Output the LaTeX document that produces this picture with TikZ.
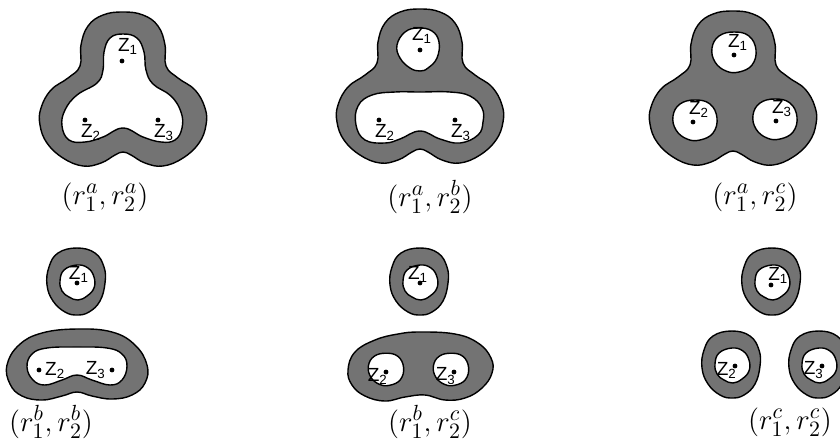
\documentclass[tikz,border=0pt]{standalone}
\usepackage{fontspec}
\setsansfont{Liberation Sans}
\usetikzlibrary{positioning}

\begin{document}
\begin{tikzpicture}[
		% 1 unidad = 1 px de la figura original (eje y hacia abajo)
		x=0.5pt, y=-0.5pt,
		% Estilos de las regiones
		anillo/.style={draw=black, line width=0.7pt, fill=black!55},
		hueco/.style={draw=black, line width=0.7pt, fill=white},
		curva/.style={smooth cycle, tension=0.7},
		% Puntos z_i y sus etiquetas
		punto/.style={circle, fill=black, inner sep=0pt, minimum size=2.4pt},
		label_z/.style={font=\sffamily\fontsize{9.5}{10}\selectfont, inner sep=0.5pt},
		label_par/.style={font=\fontsize{15}{18}\selectfont, inner sep=0pt},
		% Contorno exterior comun de la fila superior
		pics/borde_sup/.style={code={
			\filldraw[anillo] plot[curva] coordinates {(0,12) (20,15) (35,26) (42,45) (43,66) (55,78) (72,90) (82,108) (83,125) (76,143) (60,158) (40,166) (22,163) (8,155) (0,152) (-8,155) (-22,163) (-40,166) (-60,158) (-76,143) (-83,125) (-82,108) (-72,90) (-55,78) (-43,66) (-42,45) (-35,26) (-20,15)};
		}},
		% Hueco aislado alrededor de un punto
		pics/hueco_z/.style={code={
			\filldraw[hueco] plot[curva] coordinates {(0,-21) (15,-17) (22,-3) (18,12) (5,19) (-8,18) (-19,9) (-22,-5) (-15,-17)};
		}},
		% Anillo pequeno alrededor de un punto aislado
		pics/aro/.style={code={
			\filldraw[anillo] plot[curva] coordinates {(0,-35) (18,-30) (27,-16) (28,0) (23,18) (12,29) (0,32) (-12,29) (-24,18) (-30,2) (-28,-16) (-19,-30)};
			\filldraw[hueco] plot[curva] coordinates {(0,-18) (11,-15) (17,-6) (17,5) (10,13) (1,17) (-8,14) (-15,8) (-17,-2) (-13,-13)};
		}}
		]
		
		\useasboundingbox (0,0) rectangle (840,441);
		
		% --- FILA SUPERIOR ---
		% Panel (r1a, r2a): un solo hueco
		\pic at (123,0) {borde_sup};
		\begin{scope}[shift={(123,0)}]
			\filldraw[hueco] plot[curva] coordinates {(0,34) (14,38) (21,52) (23,70) (30,84) (48,96) (58,112) (59,128) (52,140) (38,142) (20,137) (0,128) (-20,137) (-38,142) (-54,140) (-61,126) (-58,110) (-46,95) (-26,83) (-20,70) (-19,52) (-13,38)};
		\end{scope}
		\node[punto] (aa_z1) at (122,61) {};
		\node[punto] (aa_z2) at (85,120) {};
		\node[punto] (aa_z3) at (158,120) {};
		\node[label_z, above=1pt of aa_z1, xshift=3pt] {Z\textsubscript{1}};
		\node[label_z, below=0pt of aa_z2, xshift=3pt] {Z\textsubscript{2}};
		\node[label_z, below=0pt of aa_z3, xshift=3pt] {Z\textsubscript{3}};
		\node[label_par] (par_aa) at (105,197) {$(r_1^a, r_2^a)$};
		
		% Panel (r1a, r2b): z1 separado
		\pic at (420,-3) {borde_sup};
		\begin{scope}[shift={(420,0)}]
			\filldraw[hueco] plot[curva] coordinates {(-2,28) (12,31) (19,42) (17,58) (8,68) (0,71) (-10,68) (-20,58) (-23,45) (-15,32)};
			\filldraw[hueco] plot[curva] coordinates {(0,92) (30,92) (50,96) (62,108) (63,122) (58,135) (40,143) (20,139) (0,131) (-20,139) (-35,143) (-55,140) (-64,125) (-62,106) (-48,95) (-25,92)};
		\end{scope}
		\node[punto] (ab_z1) at (420,50) {};
		\node[punto] (ab_z2) at (379,120) {};
		\node[punto] (ab_z3) at (455,120) {};
		\node[label_z, above=1pt of ab_z1, xshift=1pt] {Z\textsubscript{1}};
		\node[label_z, below=0pt of ab_z2, xshift=3pt] {Z\textsubscript{2}};
		\node[label_z, below=0pt of ab_z3, xshift=3pt] {Z\textsubscript{3}};
		\node[label_par] (par_ab) at (430,197) {$(r_1^a, r_2^b)$};
		
		% Panel (r1a, r2c): tres huecos
		\pic at (733,-1) {borde_sup};
		\pic at (734,53) {hueco_z};
		\pic at (695,121) {hueco_z};
		\pic at (775,120) {hueco_z};
		\node[punto] (ac_z1) at (734,55) {};
		\node[punto] (ac_z2) at (693,122) {};
		\node[punto] (ac_z3) at (776,121) {};
		\node[label_z, above=0pt of ac_z1, xshift=2pt] {Z\textsubscript{1}};
		\node[label_z, above=0pt of ac_z2, xshift=3pt] {Z\textsubscript{2}};
		\node[label_z, above=0pt of ac_z3, xshift=3pt] {Z\textsubscript{3}};
		\node[label_par] (par_ac) at (755,197) {$(r_1^a, r_2^c)$};
		
		% --- FILA INFERIOR ---
		% Panel (r1b, r2b)
		\pic at (77,283) {aro};
		\begin{scope}[shift={(77,0)}]
			\filldraw[anillo] plot[curva] coordinates {(0,329) (35,332) (58,345) (70,365) (68,383) (55,395) (35,399) (15,396) (0,392) (-15,396) (-35,400) (-55,396) (-67,384) (-70,365) (-58,345) (-35,333)};
			\filldraw[hueco] plot[curva] coordinates {(0,347) (30,348) (45,354) (50,366) (45,380) (33,385) (15,380) (0,375) (-15,380) (-32,385) (-44,380) (-50,367) (-45,354) (-30,348)};
		\end{scope}
		\node[punto] (bb_z1) at (77,283) {};
		\node[punto] (bb_z2) at (39,370) {};
		\node[punto] (bb_z3) at (112,370) {};
		\node[label_z, above=-2pt of bb_z1, xshift=1pt] {Z\textsubscript{1}};
		\node[label_z, right=1pt of bb_z2] {Z\textsubscript{2}};
		\node[label_z, left=1pt of bb_z3] {Z\textsubscript{3}};
		\node[label_par] (par_bb) at (51,422) {$(r_1^b, r_2^b)$};
		
		% Panel (r1b, r2c)
		\pic at (420,283) {aro};
		\begin{scope}[shift={(420,0)}]
			\filldraw[anillo] plot[curva] coordinates {(0,332) (35,334) (58,343) (71,358) (72,373) (62,388) (45,398) (25,400) (5,395) (-15,397) (-35,401) (-55,396) (-68,385) (-72,370) (-65,352) (-45,340) (-22,334)};
		\end{scope}
		\pic[scale=0.8] at (386,370) {hueco_z};
		\pic[scale=0.8] at (451,370) {hueco_z};
		\node[punto] (bc_z1) at (420,283) {};
		\node[punto] (bc_z2) at (386,372) {};
		\node[punto] (bc_z3) at (454,372) {};
		\node[label_z, above=-2pt of bc_z1, xshift=-1pt] {Z\textsubscript{1}};
		\node[label_z, left=-3pt of bc_z2, yshift=-2pt] {Z\textsubscript{2}};
		\node[label_z, left=-3pt of bc_z3, yshift=-2pt] {Z\textsubscript{3}};
		\node[label_par] (par_bc) at (430,422) {$(r_1^b, r_2^c)$};
		
		% Panel (r1c, r2c): tres anillos separados
		\pic at (772,283) {aro};
		\pic at (732,366) {aro};
		\pic at (819,366) {aro};
		\node[punto] (cc_z1) at (771,285) {};
		\node[punto] (cc_z2) at (735,366) {};
		\node[punto] (cc_z3) at (822,366) {};
		\node[label_z, above right=-1pt and -3pt of cc_z1] {Z\textsubscript{1}};
		\node[label_z, left=-3pt of cc_z2, yshift=-2pt] {Z\textsubscript{2}};
		\node[label_z, left=-3pt of cc_z3, yshift=-2pt] {Z\textsubscript{3}};
		\node[label_par] (par_cc) at (790,422) {$(r_1^c, r_2^c)$};
		
\end{tikzpicture}
\end{document}
